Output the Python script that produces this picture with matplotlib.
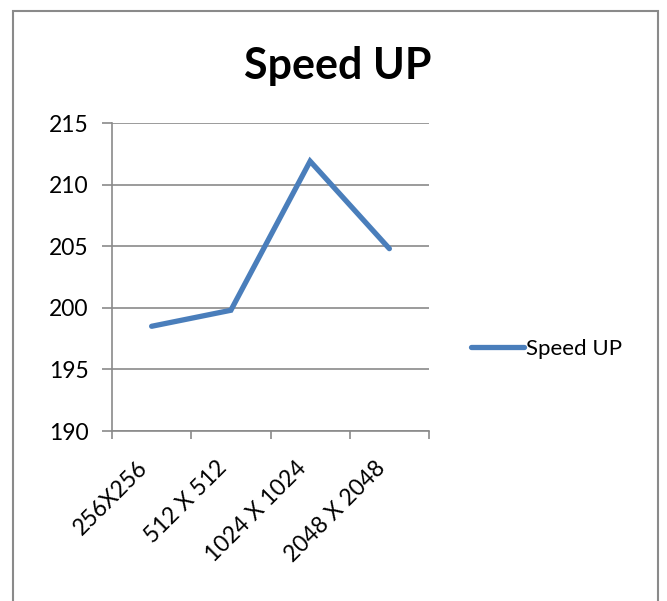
import matplotlib
matplotlib.use("Agg")
import matplotlib.pyplot as plt
from matplotlib.patches import Rectangle

categories = ["256X256", "512 X 512", "1024 X 1024", "2048 X 2048"]
speedup = [198.5, 199.8, 211.9, 204.8]
yticks = [190, 195, 200, 205, 210, 215]
series_name = "Speed UP"
title = "Speed UP"

plt.rcParams['font.family'] = ['Lato', 'DejaVu Sans']

W, H = 667, 601
fig = plt.figure(figsize=(W / 100, H / 100), dpi=100)
fig.patch.set_facecolor("white")

# outer chart border
fig.patches.append(Rectangle((13 / W, -0.05), (658 - 13) / W, (H - 11) / H + 0.05,
                             transform=fig.transFigure, fill=False,
                             edgecolor="#8a8a8a", linewidth=1.5))

ax = fig.add_axes([112 / W, (H - 431) / H, (429 - 112) / W, (431 - 123) / H])
x = list(range(len(categories)))
ax.plot(x, speedup, color="#4A7EBB", linewidth=3.8, solid_capstyle="round",
        solid_joinstyle="miter", label=series_name)

ax.set_xlim(-0.5, len(categories) - 0.5)
ax.set_ylim(min(yticks), max(yticks))
ax.set_yticks(yticks)
ax.set_yticklabels([str(v) for v in yticks])
ax.set_xticks([i - 0.5 for i in range(len(categories) + 1)], minor=False)
ax.set_xticklabels([])
ax.set_xticks(x, minor=True)
ax.set_xticklabels(categories, minor=True, rotation=45, ha="right", va="top",
                   fontsize=16.5)
ax.tick_params(axis="x", which="minor", length=0, pad=19)
ax.tick_params(axis="x", which="major", length=6, width=1.2, color="#8a8a8a",
               direction="out")
ax.tick_params(axis="y", length=7, width=1.2, color="#8a8a8a", direction="out",
               labelsize=16.5, pad=10)

ax.grid(axis="y", color="#8a8a8a", linewidth=1.2)
ax.set_axisbelow(True)
for s in ["top", "right"]:
    ax.spines[s].set_visible(False)
for s in ["left", "bottom"]:
    ax.spines[s].set_color("#8a8a8a")
    ax.spines[s].set_linewidth(1.2)

fig.text(338 / W, 1 - 66 / H, title, ha="center", va="center",
         fontsize=31, fontweight="bold")

fig.legend(loc="center left", bbox_to_anchor=(462 / W, 1 - 349 / H),
           frameon=False, fontsize=16, handlelength=2.4, handletextpad=0.1,
           borderaxespad=0)

fig.savefig("out.png", dpi=100, facecolor="white")
